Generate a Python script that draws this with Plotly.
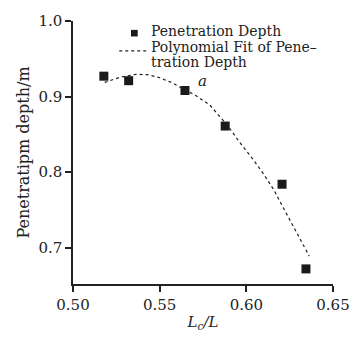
import plotly.graph_objects as go

# measured data points
x_pts = [0.5178, 0.5321, 0.5646, 0.5878, 0.6206, 0.6344]
y_pts = [0.927, 0.921, 0.908, 0.861, 0.784, 0.672]

# polynomial fit curve
x_fit = [0.5183, 0.5270, 0.5363, 0.5430, 0.5493, 0.5570, 0.5641, 0.5710, 0.5789, 0.5891,
         0.5960, 0.6039, 0.6104, 0.6160, 0.6206, 0.6290, 0.6363]
y_fit = [0.9187, 0.9255, 0.9294, 0.9290, 0.9255, 0.9185, 0.9096, 0.9010, 0.8889, 0.8620,
         0.8400, 0.8168, 0.7961, 0.7760, 0.7560, 0.7200, 0.6889]

x_ticks = [0.50, 0.55, 0.60, 0.65]
x_tick_labels = ["0.50", "0.55", "0.60", "0.65"]
y_ticks = [0.7, 0.8, 0.9, 1.0]
y_tick_labels = ["0.7", "0.8", "0.9", "1.0"]

legend_lines = ["Penetration Depth", "Polynomial Fit of Pene\u2013", "tration Depth"]

FONT = "DejaVu Serif"
INK = "#222222"

fig = go.Figure()
fig.add_trace(go.Scatter(
    x=x_pts, y=y_pts, mode="markers", name="Penetration Depth", showlegend=False,
    marker=dict(symbol="square", size=9, color="#1a1a1a"),
))
fig.add_trace(go.Scatter(
    x=x_fit, y=y_fit, mode="lines", name="Polynomial Fit", showlegend=False,
    line=dict(color=INK, width=1.2, dash="dot"),
))

fig.add_annotation(x=0.5745, y=0.9205, text="<i>a</i>", showarrow=False,
                   font=dict(family=FONT, size=15, color=INK))

# manual legend (plot area: x 73..343 px, y 12..293 px)
def px(xp):
    return (xp - 73) / 270.0

def py(yp):
    return (293 - yp) / 281.0

fig.add_shape(type="rect", xref="paper", yref="paper",
              x0=px(133.2), x1=px(140.2), y0=py(28.5), y1=py(21.5),
              fillcolor="#1a1a1a", line=dict(width=0))
fig.add_shape(type="line", xref="paper", yref="paper",
              x0=px(121), x1=px(149), y0=py(44.0), y1=py(44.0),
              line=dict(color=INK, width=1.2, dash="dot"))
for txt, base in zip(legend_lines, [28.0, 44.3, 60.6]):
    fig.add_annotation(xref="paper", yref="paper", x=px(153), y=py(base - 5),
                       xanchor="left", yanchor="middle", showarrow=False, text=txt,
                       borderpad=0, font=dict(family=FONT, size=14, color=INK))

axis_common = dict(showline=True, linecolor=INK, linewidth=1.5, ticks="outside",
                   ticklen=6, tickwidth=1.5, tickcolor=INK, showgrid=False, zeroline=False,
                   tickfont=dict(family=FONT, size=15, color=INK))

fig.update_xaxes(range=[0.50, 0.65], tickvals=x_ticks, ticktext=x_tick_labels,
                 title=dict(text="<i>L</i><sub><i>c</i></sub><i>/L</i>",
                            font=dict(family=FONT, size=15, color=INK), standoff=4),
                 **axis_common)
fig.update_yaxes(range=[0.652, 1.0], tickvals=y_ticks, ticktext=y_tick_labels,
                 title=dict(text="Penetratipm depth/m", font=dict(family=FONT, size=16, color=INK),
                            standoff=5),
                 **axis_common)

fig.update_layout(
    width=362, height=340,
    margin=dict(l=73, r=19, t=12, b=47),
    plot_bgcolor="white", paper_bgcolor="white",
    showlegend=False,
)

fig.write_html("out.html")
